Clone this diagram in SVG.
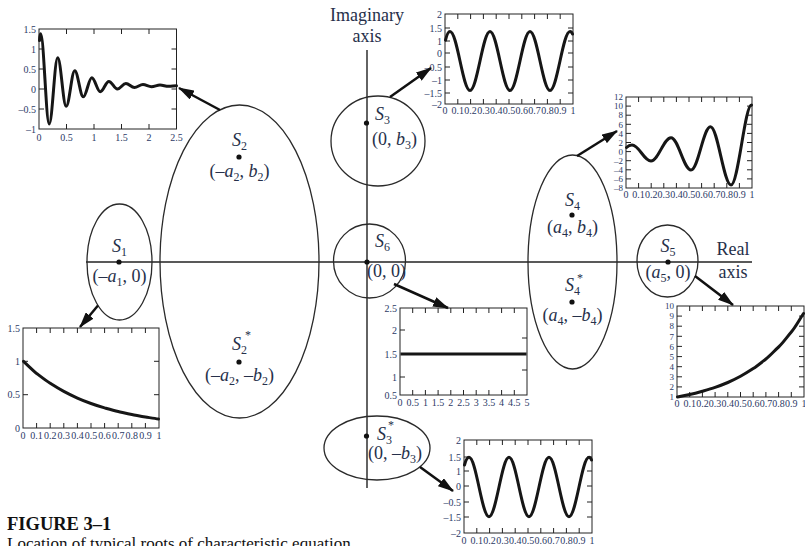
<svg xmlns="http://www.w3.org/2000/svg" width="805" height="546" viewBox="0 0 805 546">
<style>
.ax{stroke:#222;stroke-width:1.4;fill:none}
.el{stroke:#2a2a2a;stroke-width:1.3;fill:none}
.dot{fill:#111}
.lbl{font-family:"Liberation Serif","DejaVu Serif",serif;font-size:18px;fill:#26304a}
.it{font-style:italic}
.sub{font-size:12px}
.star{font-family:"Liberation Serif",serif;font-size:12px;fill:#26304a}
.box{fill:#fff;stroke:#222;stroke-width:1}
.tk{stroke:#222;stroke-width:1;fill:none}
.crv{stroke:#161616;stroke-width:3;fill:none;stroke-linejoin:round;stroke-linecap:round}
.tl{font-family:"Liberation Serif","DejaVu Serif",serif;font-size:10px;fill:#2c3a66}
.sm{font-size:9px}
.yl{text-anchor:end}
.xl{text-anchor:middle}
.arr{stroke:#111;stroke-width:2.5;fill:none;marker-end:url(#ah)}
.cap{font-family:"Liberation Serif","DejaVu Serif",serif;fill:#111}
</style>
<defs>
<marker id="ah" markerUnits="userSpaceOnUse" markerWidth="16" markerHeight="10" viewBox="0 0 16 10" refX="15" refY="5" orient="auto">
<path d="M0,0 L16,5 L0,10 z" fill="#111"/>
</marker>
</defs>
<rect width="805" height="546" fill="#fff"/>

<g id="axes">
<line class="ax" x1="86" y1="262" x2="752" y2="262"/>
<line class="ax" x1="367" y1="50" x2="367" y2="488"/>
<text class="lbl" x="367" y="21" text-anchor="middle">Imaginary</text>
<text class="lbl" x="367" y="42" text-anchor="middle">axis</text>
<text class="lbl" x="733" y="255" text-anchor="middle">Real</text>
<text class="lbl" x="733" y="278" text-anchor="middle">axis</text>
</g>

<g id="node-s1">
<ellipse class="el" cx="119.5" cy="262" rx="32.5" ry="58"/>
<circle class="dot" cx="119" cy="262" r="2.6"/>
<text class="lbl" x="119.5" y="252" text-anchor="middle"><tspan class="it">S</tspan><tspan class="sub" dy="4">1</tspan></text>
<text class="lbl" x="119.5" y="282" text-anchor="middle">(–<tspan class="it">a</tspan><tspan class="sub" dy="4">1</tspan><tspan dy="-4">, 0)</tspan></text>
</g>

<g id="node-s2">
<ellipse class="el" cx="239.5" cy="261.5" rx="79.5" ry="156.5"/>
<circle class="dot" cx="239" cy="157" r="2.6"/>
<text class="lbl" x="239.5" y="146" text-anchor="middle"><tspan class="it">S</tspan><tspan class="sub" dy="4">2</tspan></text>
<text class="lbl" x="239.5" y="177" text-anchor="middle">(–<tspan class="it">a</tspan><tspan class="sub" dy="4">2</tspan><tspan dy="-4">, </tspan><tspan class="it">b</tspan><tspan class="sub" dy="4">2</tspan><tspan dy="-4">)</tspan></text>
</g>

<g id="node-s2star">
<circle class="dot" cx="239" cy="362" r="2.6"/>
<text class="lbl" x="239.5" y="350" text-anchor="middle"><tspan class="it">S</tspan><tspan class="sub" dy="4">2</tspan></text>
<text class="star" x="245" y="339">*</text>
<text class="lbl" x="239.5" y="381" text-anchor="middle">(–<tspan class="it">a</tspan><tspan class="sub" dy="4">2</tspan><tspan dy="-4">, –</tspan><tspan class="it">b</tspan><tspan class="sub" dy="4">2</tspan><tspan dy="-4">)</tspan></text>
</g>

<g id="node-s3">
<ellipse class="el" cx="378" cy="141" rx="47" ry="45"/>
<circle class="dot" cx="366.5" cy="123" r="2.6"/>
<text class="lbl" x="375" y="120"><tspan class="it">S</tspan><tspan class="sub" dy="4">3</tspan></text>
<text class="lbl" x="372" y="145">(0, <tspan class="it">b</tspan><tspan class="sub" dy="4">3</tspan><tspan dy="-4">)</tspan></text>
</g>

<g id="node-s6">
<ellipse class="el" cx="369.5" cy="261" rx="36" ry="37"/>
<circle class="dot" cx="367" cy="262" r="2.6"/>
<text class="lbl" x="375" y="247"><tspan class="it">S</tspan><tspan class="sub" dy="4">6</tspan></text>
<text class="lbl" x="367" y="277">(0, 0)</text>
</g>

<g id="node-s3star">
<ellipse class="el" cx="377" cy="448" rx="53" ry="32"/>
<circle class="dot" cx="366.5" cy="436" r="2.6"/>
<text class="lbl" x="377" y="440"><tspan class="it">S</tspan><tspan class="sub" dy="4">3</tspan></text>
<text class="star" x="388" y="429">*</text>
<text class="lbl" x="368" y="459">(0, –<tspan class="it">b</tspan><tspan class="sub" dy="4">3</tspan><tspan dy="-4">)</tspan></text>
</g>

<g id="node-s4">
<ellipse class="el" cx="572.5" cy="262" rx="44.5" ry="107"/>
<circle class="dot" cx="572" cy="215" r="2.6"/>
<text class="lbl" x="572.5" y="206" text-anchor="middle"><tspan class="it">S</tspan><tspan class="sub" dy="4">4</tspan></text>
<text class="lbl" x="572.5" y="233" text-anchor="middle">(<tspan class="it">a</tspan><tspan class="sub" dy="4">4</tspan><tspan dy="-4">, </tspan><tspan class="it">b</tspan><tspan class="sub" dy="4">4</tspan><tspan dy="-4">)</tspan></text>
</g>

<g id="node-s4star">
<circle class="dot" cx="572" cy="302" r="2.6"/>
<text class="lbl" x="572.5" y="291" text-anchor="middle"><tspan class="it">S</tspan><tspan class="sub" dy="4">4</tspan></text>
<text class="star" x="577" y="282">*</text>
<text class="lbl" x="572.5" y="321" text-anchor="middle">(<tspan class="it">a</tspan><tspan class="sub" dy="4">4</tspan><tspan dy="-4">, –</tspan><tspan class="it">b</tspan><tspan class="sub" dy="4">4</tspan><tspan dy="-4">)</tspan></text>
</g>

<g id="node-s5">
<ellipse class="el" cx="667.5" cy="261" rx="30.5" ry="36"/>
<circle class="dot" cx="668" cy="262" r="2.6"/>
<text class="lbl" x="668" y="252" text-anchor="middle"><tspan class="it">S</tspan><tspan class="sub" dy="4">5</tspan></text>
<text class="lbl" x="668" y="278" text-anchor="middle">(<tspan class="it">a</tspan><tspan class="sub" dy="4">5</tspan><tspan dy="-4">, 0)</tspan></text>
</g>

<g id="plot-s2">
<rect class="box" x="39" y="29" width="137.5" height="100"/>
<path class="tk" d="M66.5,29v5M94,29v5M121.5,29v5M149,29v5M66.5,129v-5M94,129v-5M121.5,129v-5M149,129v-5M39,49h5M39,69h5M39,89h5M39,109h5M176.5,49h-5M176.5,69h-5M176.5,89h-5M176.5,109h-5"/>
<path class="crv" d="M39.5,40.6 Q39.8,33.8 40.65,33.8 C43.75,33.8 46.1,123.9 49.2,123.9 C52.3,123.9 54.6,57.8 57.7,57.8 C60.8,57.8 63.1,106.3 66.2,106.3 C69.3,106.3 71.65,70.8 74.75,70.8 C77.85,70.8 80.2,96.8 83.3,96.8 C86.4,96.8 88.7,77.7 91.8,77.7 C94.9,77.7 97.2,91.7 100.3,91.7 C103.4,91.7 105.75,81.4 108.85,81.4 C111.95,81.4 114.3,89 117.4,89 C120.5,89 122.8,83.4 125.9,83.4 C129,83.4 131.3,87.5 134.4,87.5 C137.5,87.5 139.85,84.6 142.95,84.6 C146.05,84.6 148.4,86.7 151.5,86.7 C154.6,86.7 156.9,85.1 160,85.1 C163.1,85.1 165.4,86.3 168.5,86.3 C171.6,86.3 174,85.8 176.5,85.8"/>
<g class="tl yl"><text x="36" y="33">1.5</text><text x="36" y="53">1</text><text x="36" y="73">0.5</text><text x="36" y="93">0</text><text x="36" y="113">–0.5</text><text x="36" y="133">–1</text></g>
<g class="tl xl"><text x="39" y="141">0</text><text x="66.5" y="141">0.5</text><text x="94" y="141">1</text><text x="121.5" y="141">1.5</text><text x="149" y="141">2</text><text x="176.5" y="141">2.5</text></g>
</g>

<g id="plot-s3">
<rect class="box" x="445" y="14" width="128" height="90"/>
<path class="tk" d="M457.8,14v5M470.6,14v5M483.4,14v5M496.2,14v5M509,14v5M521.8,14v5M534.6,14v5M547.4,14v5M560.2,14v5M457.8,104v-5M470.6,104v-5M483.4,104v-5M496.2,104v-5M509,104v-5M521.8,104v-5M534.6,104v-5M547.4,104v-5M560.2,104v-5M445,28h5M445,41h5M445,53h5M445,67h5M445,80h5M445,93h5M573,28h-5M573,41h-5M573,53h-5M573,67h-5M573,80h-5M573,93h-5"/>
<path class="crv" d="M445.5,40.1 Q447.6,31.5 450,31.5 C457.27,31.5 462.73,90.5 470,90.5 C477.27,90.5 482.73,31.5 490,31.5 C497.27,31.5 502.73,90.5 510,90.5 C517.27,90.5 522.73,31.5 530,31.5 C537.27,31.5 542.73,90.5 550,90.5 C557.27,90.5 562.73,31.5 570,31.5 Q571.5,31.5 572.5,34"/>
<g class="tl yl"><text x="442" y="17.5">2</text><text x="442" y="31.5">1.5</text><text x="442" y="44.5">1</text><text x="442" y="56.5">0</text><text x="442" y="70.5">–0.5</text><text x="442" y="83.5">–1</text><text x="442" y="96.5">–1.5</text><text x="442" y="107.5">–2</text></g>
<g class="tl xl"><text x="445" y="114">0</text><text x="457.8" y="114">0.1</text><text x="470.6" y="114">0.2</text><text x="483.4" y="114">0.3</text><text x="496.2" y="114">0.4</text><text x="509" y="114">0.5</text><text x="521.8" y="114">0.6</text><text x="534.6" y="114">0.7</text><text x="547.4" y="114">0.8</text><text x="560.2" y="114">0.9</text><text x="573" y="114">1</text></g>
</g>

<g id="plot-s4">
<rect class="box" x="626" y="97" width="126" height="91"/>
<path class="tk" d="M638.6,97v5M651.2,97v5M663.8,97v5M676.4,97v5M689,97v5M701.6,97v5M714.2,97v5M726.8,97v5M739.4,97v5M638.6,188v-5M651.2,188v-5M663.8,188v-5M676.4,188v-5M689,188v-5M701.6,188v-5M714.2,188v-5M726.8,188v-5M739.4,188v-5M626,106.1h5M626,115.2h5M626,124.3h5M626,133.4h5M626,142.5h5M626,151.6h5M626,160.7h5M626,169.8h5M626,178.9h5M752,106.1h-5M752,115.2h-5M752,124.3h-5M752,133.4h-5M752,142.5h-5M752,151.6h-5M752,160.7h-5M752,169.8h-5M752,178.9h-5"/>
<path class="crv" d="M626.5,147.5 Q629,145 632,145 C639.2,145 643.8,161 651,161 C658.2,161 663.8,137.7 671,137.7 C678.2,137.7 683.8,170 691,170 C698.2,170 703.3,126.7 710.5,126.7 C717.7,126.7 723.8,185 731,185 C738.2,185 744.8,105 751.5,105"/>
<g class="tl sm yl"><text x="623" y="100.2">12</text><text x="623" y="109.3">10</text><text x="623" y="118.4">8</text><text x="623" y="127.5">6</text><text x="623" y="136.6">4</text><text x="623" y="145.7">2</text><text x="623" y="154.8">0</text><text x="623" y="163.9">–2</text><text x="623" y="173">–4</text><text x="623" y="182.1">–6</text><text x="623" y="191.2">–8</text></g>
<g class="tl xl"><text x="626" y="198">0</text><text x="638.6" y="198">0.1</text><text x="651.2" y="198">0.2</text><text x="663.8" y="198">0.3</text><text x="676.4" y="198">0.4</text><text x="689" y="198">0.5</text><text x="701.6" y="198">0.6</text><text x="714.2" y="198">0.7</text><text x="726.8" y="198">0.8</text><text x="739.4" y="198">0.9</text><text x="752" y="198">1</text></g>
</g>

<g id="plot-s1">
<rect class="box" x="23" y="328" width="136" height="100"/>
<path class="tk" d="M36.6,328v5M50.2,328v5M63.8,328v5M77.4,328v5M91,328v5M104.6,328v5M118.2,328v5M131.8,328v5M145.4,328v5M36.6,428v-5M50.2,428v-5M63.8,428v-5M77.4,428v-5M91,428v-5M104.6,428v-5M118.2,428v-5M131.8,428v-5M145.4,428v-5M23,361.3h5M23,394.7h5M159,361.3h-5M159,394.7h-5"/>
<path class="crv" d="M23.5,361.3 C30,367.5 36,373 36.6,373.4 S45.5,380.3 50.2,383.3 S59.5,389.1 63.8,391.4 S73,396.1 77.4,398.1 S86.5,401.9 91,403.5 S100,406.6 104.6,407.9 S113.7,410.5 118.2,411.5 S127.3,413.7 131.8,414.5 S140.9,416.3 145.4,417 S154.5,418.5 158.5,419"/>
<g class="tl yl"><text x="20" y="331.5">1.5</text><text x="20" y="364.8">1</text><text x="20" y="398.2">0.5</text><text x="20" y="431.5">0</text></g>
<g class="tl xl"><text x="23" y="439">0</text><text x="36.6" y="439">0.1</text><text x="50.2" y="439">0.2</text><text x="63.8" y="439">0.3</text><text x="77.4" y="439">0.4</text><text x="91" y="439">0.5</text><text x="104.6" y="439">0.6</text><text x="118.2" y="439">0.7</text><text x="131.8" y="439">0.8</text><text x="145.4" y="439">0.9</text><text x="159" y="439">1</text></g>
</g>

<g id="plot-s6">
<rect class="box" x="400" y="308" width="127" height="87"/>
<path class="tk" d="M412.7,308v5M425.4,308v5M438.1,308v5M450.8,308v5M463.5,308v5M476.2,308v5M488.9,308v5M501.6,308v5M514.3,308v5M412.7,395v-5M425.4,395v-5M438.1,395v-5M450.8,395v-5M463.5,395v-5M476.2,395v-5M488.9,395v-5M501.6,395v-5M514.3,395v-5M400,330h5M400,377h5M527,338h-5M527,370h-5"/>
<path class="crv" style="stroke-linecap:butt" d="M400.5,354 H526.5"/>
<g class="tl yl"><text x="397" y="311.5">2.5</text><text x="397" y="333.5">2</text><text x="397" y="357.5">1.5</text><text x="397" y="380.5">1</text><text x="397" y="398.5">0.5</text></g>
<g class="tl xl"><text x="400" y="406">0</text><text x="412.7" y="406">0.5</text><text x="425.4" y="406">1</text><text x="438.1" y="406">1.5</text><text x="450.8" y="406">2</text><text x="463.5" y="406">2.5</text><text x="476.2" y="406">3</text><text x="488.9" y="406">3.5</text><text x="501.6" y="406">4</text><text x="514.3" y="406">4.5</text><text x="527" y="406">5</text></g>
</g>

<g id="plot-s5">
<rect class="box" x="677" y="306" width="127" height="91"/>
<path class="tk" d="M689.7,306v5M702.4,306v5M715.1,306v5M727.8,306v5M740.5,306v5M753.2,306v5M765.9,306v5M778.6,306v5M791.3,306v5M689.7,397v-5M702.4,397v-5M715.1,397v-5M727.8,397v-5M740.5,397v-5M753.2,397v-5M765.9,397v-5M778.6,397v-5M791.3,397v-5M677,316.1h5M677,326.2h5M677,336.3h5M677,346.4h5M677,356.6h5M677,366.7h5M677,376.8h5M677,386.9h5M804,316.1h-5M804,326.2h-5M804,336.3h-5M804,346.4h-5M804,356.6h-5M804,366.7h-5M804,376.8h-5M804,386.9h-5"/>
<path class="crv" d="M677.5,397 C682,396 686,395.2 689.7,394.5 S698.3,392.5 702.4,391.3 S711,388.8 715.1,387.4 S723.5,384.3 727.8,382.5 S736.3,378.6 740.5,376.3 S749.2,371.2 753.2,368.6 S761.8,362.2 765.9,359 S774.5,350.6 778.6,347 S787.3,336.7 791.3,332 S799.5,319.5 803.5,313.5"/>
<g class="tl sm yl"><text x="674" y="309.2">10</text><text x="674" y="319.3">9</text><text x="674" y="329.4">8</text><text x="674" y="339.5">7</text><text x="674" y="349.6">6</text><text x="674" y="359.8">5</text><text x="674" y="369.9">4</text><text x="674" y="380">3</text><text x="674" y="390.1">2</text><text x="674" y="400.2">1</text></g>
<g class="tl xl"><text x="677" y="407">0</text><text x="689.7" y="407">0.1</text><text x="702.4" y="407">0.2</text><text x="715.1" y="407">0.3</text><text x="727.8" y="407">0.4</text><text x="740.5" y="407">0.5</text><text x="753.2" y="407">0.6</text><text x="765.9" y="407">0.7</text><text x="778.6" y="407">0.8</text><text x="791.3" y="407">0.9</text><text x="804" y="407">1</text></g>
</g>

<g id="plot-s3star">
<rect class="box" x="464" y="440" width="128" height="93"/>
<path class="tk" d="M476.8,440v5M489.6,440v5M502.4,440v5M515.2,440v5M528,440v5M540.8,440v5M553.6,440v5M566.4,440v5M579.2,440v5M476.8,533v-5M489.6,533v-5M502.4,533v-5M515.2,533v-5M528,533v-5M540.8,533v-5M553.6,533v-5M566.4,533v-5M579.2,533v-5M464,457h5M464,471h5M464,486h5M464,502h5M464,517h5M592,457h-5M592,471h-5M592,486h-5M592,502h-5M592,517h-5"/>
<path class="crv" d="M464.5,465 Q466.6,457.3 469,457.3 C476.27,457.3 481.73,516.7 489,516.7 C496.27,516.7 501.73,457.3 509,457.3 C516.27,457.3 521.73,516.7 529,516.7 C536.27,516.7 541.73,457.3 549,457.3 C556.27,457.3 561.73,516.7 569,516.7 C576.27,516.7 581.73,457.3 589,457.3 Q590.5,457.3 591.5,460"/>
<g class="tl yl"><text x="461" y="443.5">2</text><text x="461" y="460.5">1.5</text><text x="461" y="474.5">1</text><text x="461" y="489.5">0</text><text x="461" y="505.5">–0.5</text><text x="461" y="520.5">–1.5</text><text x="461" y="536.5">–2</text></g>
<g class="tl xl"><text x="464" y="544">0</text><text x="476.8" y="544">0.1</text><text x="489.6" y="544">0.2</text><text x="502.4" y="544">0.3</text><text x="515.2" y="544">0.4</text><text x="528" y="544">0.5</text><text x="540.8" y="544">0.6</text><text x="553.6" y="544">0.7</text><text x="566.4" y="544">0.8</text><text x="579.2" y="544">0.9</text><text x="592" y="544">1</text></g>
</g>

<g id="connectors">
<line class="arr" x1="220" y1="110" x2="179" y2="88"/>
<line class="arr" x1="390" y1="97" x2="431" y2="68"/>
<line class="arr" x1="577" y1="156" x2="617" y2="131"/>
<line class="arr" x1="98" y1="305.5" x2="80" y2="327"/>
<line class="arr" x1="394" y1="284" x2="448" y2="308"/>
<line class="arr" x1="695" y1="276" x2="733" y2="305"/>
<line class="arr" x1="420" y1="467" x2="453" y2="491"/>
</g>

<g id="caption">
<text class="cap" x="7" y="530" font-size="18.5" font-weight="bold">FIGURE 3–1</text>
<text class="cap" x="7" y="549" font-size="17">Location of typical roots of characteristic equation.</text>
</g>
</svg>
